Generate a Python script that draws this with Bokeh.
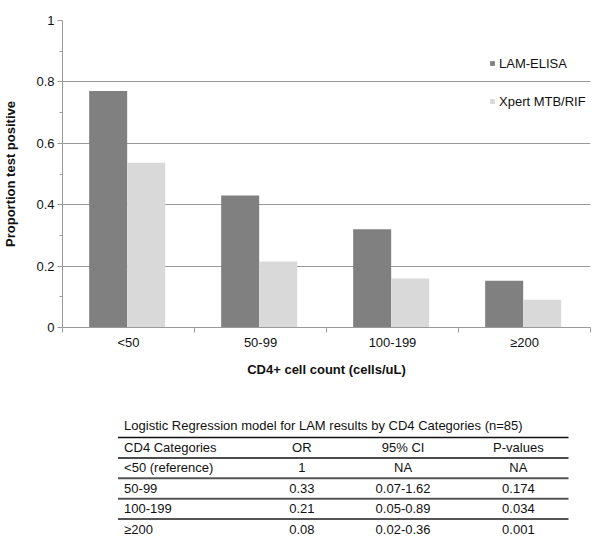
import numpy as np
from bokeh.plotting import figure
from bokeh.layouts import column
from bokeh.models import Range1d, FixedTicker, Legend, LegendItem
from bokeh.core.properties import value
from bokeh.embed import file_html
from bokeh.resources import INLINE

# ---- data ----
categories = ["<50", "50-99", "100-199", "≥200"]
lam_elisa = [0.77, 0.43, 0.32, 0.152]
xpert = [0.537, 0.215, 0.16, 0.09]
y_ticks = [0, 0.2, 0.4, 0.6, 0.8, 1.0]
y_tick_labels = ["0", "0.2", "0.4", "0.6", "0.8", "1"]
y_minor = [0.1, 0.3, 0.5, 0.7, 0.9]

table_title = "Logistic Regression model for LAM results by CD4 Categories (n=85)"
table_header = ["CD4 Categories", "OR", "95% CI", "P-values"]
table_cd4 = ["<50 (reference)", "50-99", "100-199", "≥200"]
table_or = ["1", "0.33", "0.21", "0.08"]
table_ci = ["NA", "0.07-1.62", "0.05-0.89", "0.02-0.36"]
table_p = ["NA", "0.174", "0.034", "0.001"]

FONT = "Liberation Sans"
TXT = "#111111"
AX = "#9a9a9a"

W = 600
CH = 393
TH = 149

# ---- chart ----
p = figure(width=W, height=CH, x_range=Range1d(0, len(categories)), y_range=Range1d(0, 1),
           output_backend="svg", toolbar_location=None,
           min_border_left=59, min_border_right=10, min_border_top=20, min_border_bottom=66)
p.outline_line_color = None

centers = np.arange(len(categories)) + 0.5
bw = 0.288
r1 = p.vbar(x=centers - bw / 2 - 0.01, top=lam_elisa, width=bw, fill_color="#808080", line_color=None)
r2 = p.vbar(x=centers + bw / 2 - 0.01, top=xpert, width=bw, fill_color="#d9d9d9", line_color=None)

xa = p.xaxis[0]
xa.ticker = FixedTicker(ticks=[float(c) for c in centers],
                        minor_ticks=[float(i) for i in range(len(categories) + 1)])
xa.major_label_overrides = {float(c): lab for c, lab in zip(centers, categories)}
xa.major_tick_out = 0
xa.major_tick_in = 0
xa.minor_tick_out = 5
xa.minor_tick_in = 0
xa.axis_line_color = AX
xa.minor_tick_line_color = AX
xa.major_label_standoff = 2
xa.major_label_text_font = FONT
xa.major_label_text_font_size = "13px"
xa.major_label_text_color = TXT
xa.axis_label = "CD4+ cell count (cells/uL)"
xa.axis_label_text_font = FONT
xa.axis_label_text_font_size = "13px"
xa.axis_label_text_font_style = "bold"
xa.axis_label_text_color = TXT
xa.axis_label_standoff = 9

ya = p.yaxis[0]
yt = FixedTicker(ticks=y_ticks, minor_ticks=y_minor)
ya.ticker = yt
ya.major_label_overrides = {float(t): lab for t, lab in zip(y_ticks, y_tick_labels)}
ya.major_tick_out = 5
ya.major_tick_in = 0
ya.minor_tick_out = 3
ya.minor_tick_in = 0
ya.axis_line_color = AX
ya.major_tick_line_color = AX
ya.minor_tick_line_color = AX
ya.major_label_standoff = 3
ya.major_label_text_font = FONT
ya.major_label_text_font_size = "13px"
ya.major_label_text_color = TXT
ya.axis_label = "Proportion test positive"
ya.axis_label_text_font = FONT
ya.axis_label_text_font_size = "13px"
ya.axis_label_text_font_style = "bold"
ya.axis_label_text_color = TXT
ya.axis_label_standoff = 15

p.xgrid.visible = False
p.ygrid.ticker = yt
p.ygrid.grid_line_color = AX
p.ygrid.grid_line_width = 1

legend = Legend(items=[LegendItem(label="LAM-ELISA", renderers=[r1]),
                       LegendItem(label="Xpert MTB/RIF", renderers=[r2])],
                location=(427, 216), orientation="vertical", spacing=18, padding=0, margin=0,
                glyph_width=6, glyph_height=6, label_standoff=4, label_height=20,
                border_line_color=None, background_fill_alpha=0,
                label_text_font=FONT, label_text_font_size="13px", label_text_color=TXT)
p.add_layout(legend)

# ---- table ----
t = figure(width=W, height=TH, x_range=Range1d(0, W), y_range=Range1d(TH, 0),
           output_backend="svg", toolbar_location=None, min_border=0,
           x_axis_location=None, y_axis_location=None)
t.grid.visible = False
t.outline_line_color = None

row_h = 20.4
title_y = 32
line0 = 44
text0 = 54
x_left = 70
col_centers = [272, 387, 518]
line_x0, line_x1 = 63, 575

t.text(x=[x_left], y=[title_y], text=[table_title], text_align="left", text_baseline="middle",
       text_font=value(FONT), text_font_size="13px", text_color=TXT)

rows = [table_header] + [list(r) for r in zip(table_cd4, table_or, table_ci, table_p)]
row_ys = [text0 + i * row_h for i in range(len(rows))]
t.text(x=[x_left] * len(rows), y=row_ys, text=[r[0] for r in rows], text_align="left",
       text_baseline="middle", text_font=value(FONT), text_font_size="13px", text_color=TXT)
for j, cx in enumerate(col_centers):
    t.text(x=[cx] * len(rows), y=row_ys, text=[r[j + 1] for r in rows], text_align="center",
           text_baseline="middle", text_font=value(FONT), text_font_size="13px", text_color=TXT)

n_lines = len(rows)
line_ys = [line0 + i * row_h for i in range(n_lines)]
line_colors = ["#111111", "#111111"] + ["#555555"] * (n_lines - 2)
line_widths = [1.5, 1.5] + [2] * (n_lines - 2)
t.segment(x0=[line_x0] * n_lines, y0=line_ys, x1=[line_x1] * n_lines, y1=line_ys,
          line_color=line_colors, line_width=line_widths)

layout = column(p, t, spacing=0)
open("out.html", "w").write(file_html(layout, INLINE))
